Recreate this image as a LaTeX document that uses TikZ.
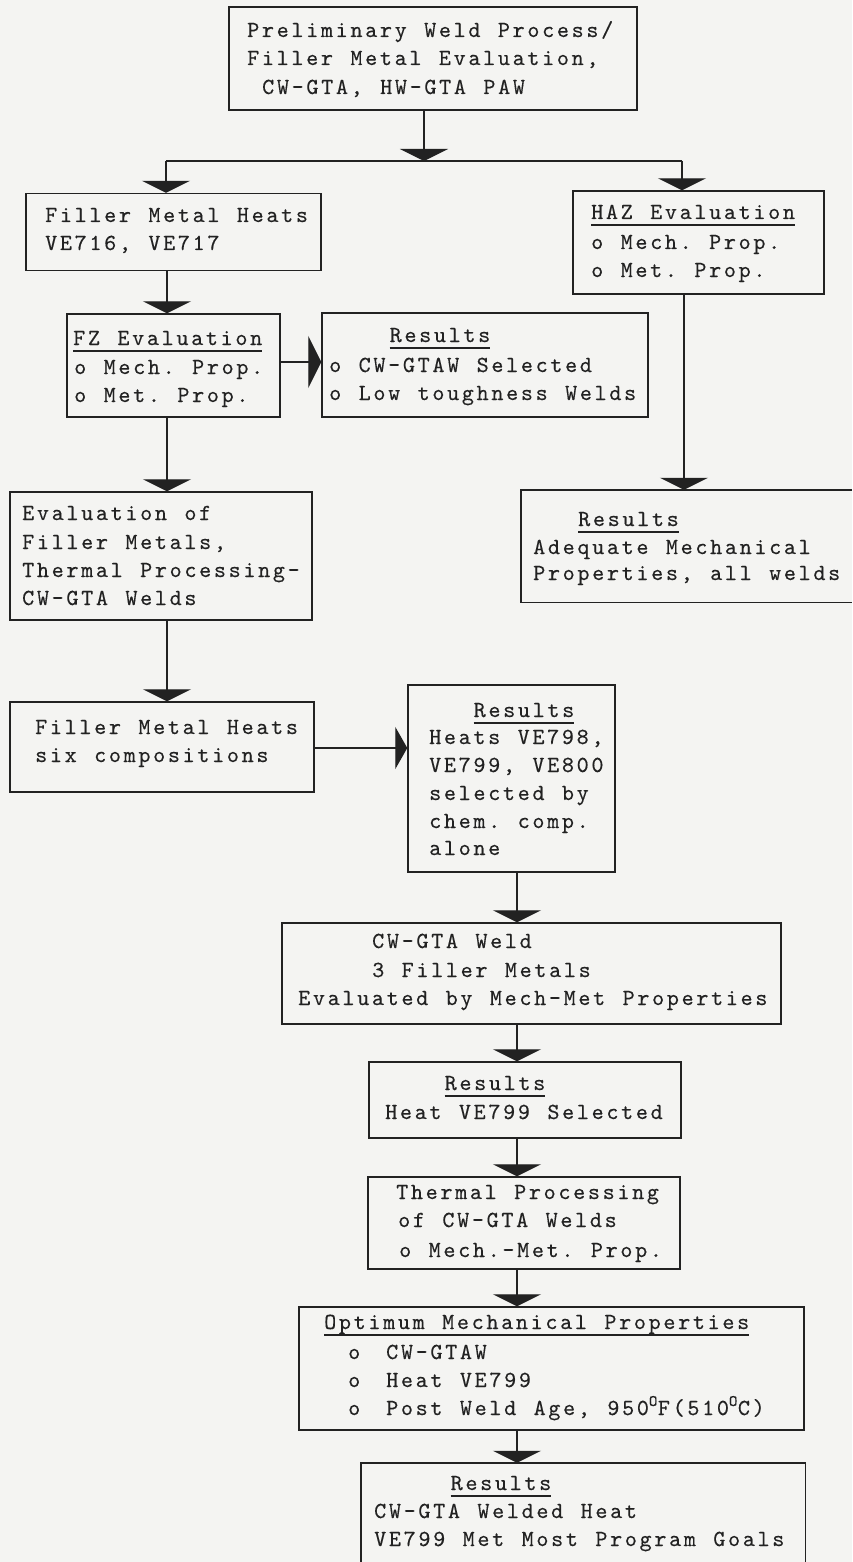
\documentclass[tikz,border=0pt]{standalone}
\usepackage{fontspec}
\usetikzlibrary{arrows.meta}
\newfontfamily\lmtw[LetterSpace=11.63,FakeBold=0.3]{lmmono10-regular.otf}
\newcommand\twfont{\lmtw\fontsize{23}{28}\selectfont\frenchspacing\spaceskip=17.4pt\relax}
\definecolor{paper}{RGB}{244,244,242}
\definecolor{ink}{RGB}{34,34,34}
\tikzset{
  box/.style={draw=ink, line width=1.4pt, rectangle, inner sep=0pt},
  openbox/.style={draw=none, rectangle, inner sep=0pt},
  edge/.style={draw=ink, line width=1.2pt},
  line/.style={edge},
  arr/.style={edge, -{Triangle[width=48pt,length=12pt]}},
  harr/.style={edge, -{Triangle[width=52pt,length=13pt]}},
  harrb/.style={edge, -{Triangle[width=42pt,length=12pt]}},
  txt/.style={font=\twfont, text=ink, inner sep=0pt, anchor=base west},
  ctxt/.style={txt, anchor=base},
  uline/.style={draw=ink, line width=1.2pt}
}
\begin{document}
\begin{tikzpicture}[x=1pt,y=-1pt]
\fill[paper] (0,0) rectangle (852,1562);
\useasboundingbox (0,0) rectangle (852,1562);

% boxes
\node[box, minimum width=408, minimum height=103] (top) at (433,58.5) {};
\node[box, minimum width=295, minimum height=77] (fill1) at (173.5,232) {};
\node[box, minimum width=251, minimum height=103] (haz) at (698.5,242.5) {};
\node[box, minimum width=213, minimum height=103] (fz) at (173.5,365.5) {};
\node[box, minimum width=326, minimum height=104] (res1) at (485,365) {};
\node[box, minimum width=302, minimum height=128] (evalb) at (161,556) {};
\node[openbox, minimum width=331, minimum height=112] (resR) at (686.5,546) {};
\draw[box] (resR.north east) -- (resR.north west) -- (resR.south west) -- (resR.south east);
\node[box, minimum width=304, minimum height=90] (fill2) at (162,747) {};
\node[box, minimum width=207, minimum height=187] (res2) at (511.5,778.5) {};
\node[box, minimum width=499, minimum height=101] (cw) at (531.5,973.5) {};
\node[box, minimum width=312, minimum height=76] (res3) at (525,1100) {};
\node[box, minimum width=312, minimum height=92] (therm) at (524,1223) {};
\node[box, minimum width=505, minimum height=123] (opt) at (551.5,1368.5) {};
\node[openbox, minimum width=444, minimum height=99] (fin) at (583,1512.5) {};
\draw[box] (fin.south west) -- (fin.north west) -- (fin.north east) -- (fin.south east);

% texts
\node[txt] (t1) at (247,37) {Preliminary Weld Process/};
\node[txt] (t2) at (247,65) {Filler Metal Evaluation,};
\node[txt] (t3) at (262,94) {CW-GTA, HW-GTA PAW};

\node[txt] (f1a) at (45,222) {Filler Metal Heats};
\node[txt] (f1b) at (45,250) {VE716, VE717};

\node[txt] (hz1) at (591,219) {HAZ Evaluation};
\node[txt] (hz2) at (591,249) {o Mech. Prop.};
\node[txt] (hz3) at (591,277) {o Met. Prop.};

\node[txt] (fz1) at (73,345) {FZ Evaluation};
\node[txt] (fz2) at (74,374) {o Mech. Prop.};
\node[txt] (fz3) at (74,402) {o Met. Prop.};

\node[ctxt] (r1a) at (440,342) {Results};
\node[txt] (r1b) at (329,372) {o CW-GTAW Selected};
\node[txt] (r1c) at (329,400) {o Low toughness Welds};

\node[txt] (e1) at (22,520) {Evaluation of};
\node[txt] (e2) at (22,549) {Filler Metals,};
\node[txt] (e3) at (22,577) {Thermal Processing-};
\node[txt] (e4) at (22,605) {CW-GTA Welds};

\node[ctxt] (rRa) at (628.5,526) {Results};
\node[txt] (rRb) at (533,554) {Adequate Mechanical};
\node[txt] (rRc) at (533,580) {Properties, all welds};

\node[txt] (f2a) at (35,734) {Filler Metal Heats};
\node[txt] (f2b) at (35,762) {six compositions};

\node[ctxt] (r2a) at (524,717) {Results};
\node[txt] (r2b) at (429,744) {Heats VE798,};
\node[txt] (r2c) at (429,772) {VE799, VE800};
\node[txt] (r2d) at (429,800) {selected by};
\node[txt] (r2e) at (429,828) {chem. comp.};
\node[txt] (r2f) at (429,855) {alone};

\node[txt] (cw1) at (372,948) {CW-GTA Weld};
\node[txt] (cw2) at (372,977) {3 Filler Metals};
\node[txt] (cw3) at (298,1005) {Evaluated by Mech-Met Properties};

\node[ctxt] (r3a) at (495,1090) {Results};
\node[txt] (r3b) at (385,1119) {Heat VE799 Selected};

\node[txt] (th1) at (396,1199) {Thermal Processing};
\node[txt] (th2) at (398,1227) {of CW-GTA Welds};
\node[txt] (th3) at (399,1257) {o Mech.-Met. Prop.};

\node[txt] (op1) at (324,1329) {Optimum Mechanical Properties};
\node[txt] (op2o) at (348,1359) {o};
\node[txt] (op2) at (386,1359) {CW-GTAW};
\node[txt] (op3o) at (348,1387) {o};
\node[txt] (op3) at (386,1387) {Heat VE799};
\node[txt] (op4o) at (348,1415) {o};
\node[txt] (op4) at (386,1415) {Post Weld Age, 950\textsuperscript{O}F(510\textsuperscript{O}C)};

\node[ctxt] (fn1) at (501,1490) {Results};
\node[txt] (fn2) at (374,1518) {CW-GTA Welded Heat};
\node[txt] (fn3) at (374,1546) {VE799 Met Most Program Goals};

% underlines
\foreach \n in {hz1,fz1,r1a,rRa,r2a,r3a,op1,fn1}
  \draw[uline] ([yshift=-6pt]\n.base west) -- ([yshift=-6pt]\n.base east);

% connectors
\coordinate (s0) at (424,161);
\coordinate (sL) at (166,161);
\coordinate (sR) at (682,161);
\coordinate (xL) at (167,0);
\coordinate (xR) at (684,0);
\coordinate (xM) at (517,0);
\coordinate (y1) at (0,362);
\coordinate (y2) at (0,748);

\draw[arr] (top.south -| s0) -- (s0);
\draw[line] (sL) -- (sR);
\draw[arr] (sL) -- (sL |- fill1.north);
\draw[arr] (sR) -- (sR |- haz.north);
\draw[arr] (fill1.south -| xL) -- (fz.north -| xL);
\draw[harr] (fz.east |- y1) -- (res1.west |- y1);
\draw[arr] (haz.south -| xR) -- (resR.north -| xR);
\draw[arr] (fz.south -| xL) -- (evalb.north -| xL);
\draw[arr] (evalb.south -| xL) -- (fill2.north -| xL);
\draw[harrb] (fill2.east |- y2) -- (res2.west |- y2);
\draw[arr] (res2.south -| xM) -- (cw.north -| xM);
\draw[arr] (cw.south -| xM) -- (res3.north -| xM);
\draw[arr] (res3.south -| xM) -- (therm.north -| xM);
\draw[arr] (therm.south -| xM) -- (opt.north -| xM);
\draw[arr] (opt.south -| xM) -- (fin.north -| xM);
\end{tikzpicture}
\end{document}
